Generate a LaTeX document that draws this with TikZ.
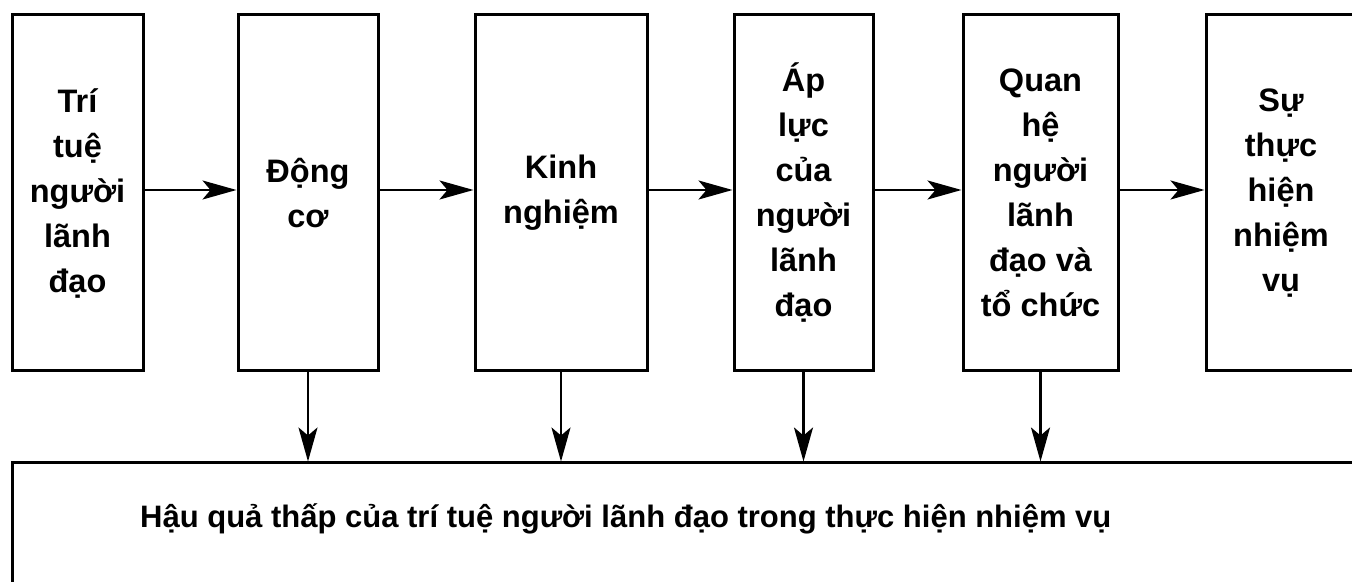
\documentclass[tikz,border=0pt]{standalone}
\usepackage{fontspec}
\setmainfont{Liberation Sans}
\usetikzlibrary{arrows.meta}
\begin{document}
\begin{tikzpicture}[x=1pt,y=1pt,
  boxnode/.style={draw=black, line width=3pt, minimum height=356pt, inner sep=0pt,
    align=center, font=\fontsize{32.5}{45}\selectfont\bfseries},
  botnode/.style={draw=black, line width=3pt, minimum width=1358pt, minimum height=158pt, inner sep=0pt},
  flow/.style={line width=2.4pt, -{Stealth[length=34pt, width=19pt, inset=8pt]}},
  bottext/.style={inner sep=0pt, font=\fontsize{31}{36}\selectfont\bfseries}]
\useasboundingbox (0,0) rectangle (1352,581);
\clip (0,0) rectangle (1352,581);
\node[boxnode, minimum width=131pt] (b1) at (77.5,388) {Trí\\tuệ\\người\\lãnh\\đạo};
\node[boxnode, minimum width=140pt] (b2) at (308,388) {Động\\cơ};
\node[boxnode, minimum width=172pt] (b3) at (561,388) {Kinh\\nghiệm};
\node[boxnode, minimum width=139pt] (b4) at (803.5,388) {Áp\\lực\\của\\người\\lãnh\\đạo};
\node[boxnode, minimum width=155pt] (b5) at (1040.5,388) {Quan\\hệ\\người\\lãnh\\đạo và\\tổ chức};
\node[boxnode, minimum width=150pt] (b6) at (1281,388) {Sự\\thực\\hiện\\nhiệm\\vụ};
\node[botnode] (bot) at (691,39) {};
\node[bottext, anchor=base west] (bt) at (140,53) {Hậu quả thấp của trí tuệ người lãnh đạo trong thực hiện nhiệm vụ};
\foreach \a/\b in {b1/b2, b2/b3, b3/b4, b4/b5, b5/b6}{
  \draw[flow] ([yshift=3pt]\a.east) -- ([yshift=3pt]\a.east -| \b.west);
}
\foreach \a in {b2, b3, b4, b5}{
  \draw[flow] (\a.south) -- (\a.south |- bot.north);
}
\end{tikzpicture}
\end{document}
